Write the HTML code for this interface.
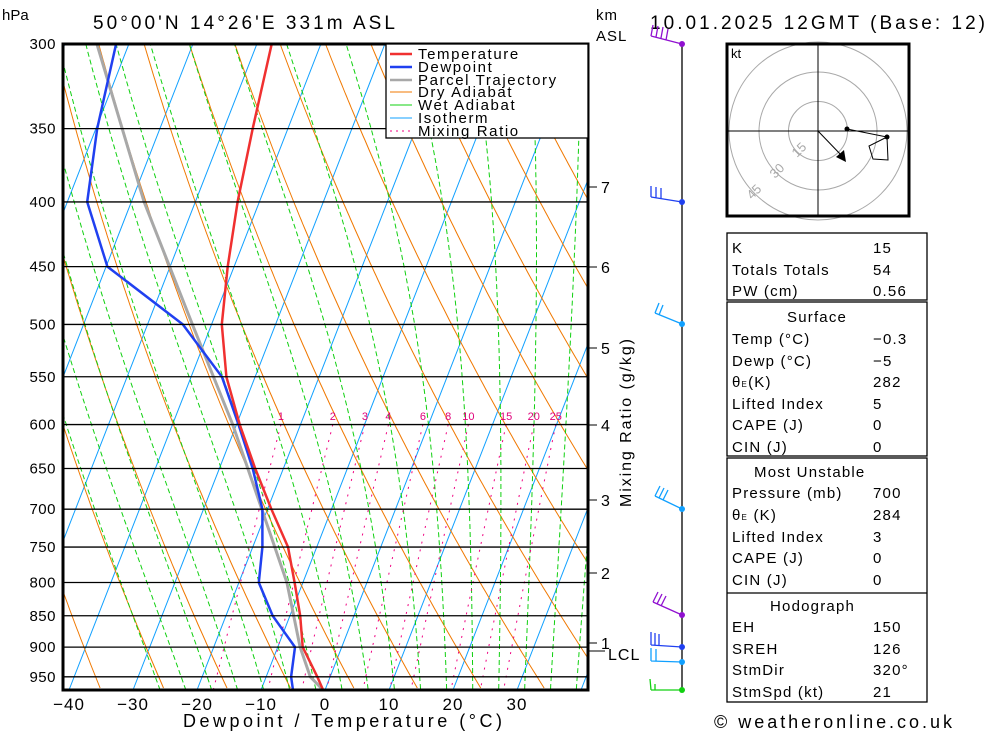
<!DOCTYPE html>
<html><head><meta charset="utf-8"><style>
body{margin:0;background:#fff;}
svg{display:block;font-family:"Liberation Sans",sans-serif;}
</style></head><body>
<svg id="c" width="1000" height="733" viewBox="0 0 1000 733">
<defs><clipPath id="pc"><rect x="63" y="44" width="525" height="646"/></clipPath></defs>
<g id="bg" clip-path="url(#pc)"></g>
<g id="series" clip-path="url(#pc)"></g>
<g id="axes"></g>
<g font-family="Liberation Sans, sans-serif">
<text x="2" y="20" font-size="15">hPa</text>
<text x="93" y="29" font-size="19" textLength="302" lengthAdjust="spacing">50°00'N  14°26'E  331m  ASL</text>
<text x="596" y="20" font-size="15" letter-spacing="1">km</text>
<text x="596" y="41" font-size="15" letter-spacing="1">ASL</text>
<text x="650" y="29" font-size="19" textLength="335" lengthAdjust="spacing">10.01.2025  12GMT  (Base: 12)</text>
<text x="183" y="727" font-size="18" textLength="319" lengthAdjust="spacing">Dewpoint / Temperature (°C)</text>
<text x="608" y="660" font-size="16" letter-spacing="1">LCL</text>
<line x1="588" y1="651" x2="605" y2="651" stroke="#000"/>
<text transform="translate(631,507) rotate(-90)" font-size="16" textLength="168" lengthAdjust="spacing">Mixing Ratio (g/kg)</text>
<text x="714" y="728" font-size="18" textLength="238" lengthAdjust="spacing">© weatheronline.co.uk</text>
</g>
<g font-family="Liberation Sans, sans-serif" font-size="15" letter-spacing="1.6">
<rect x="386" y="44" width="202" height="94" fill="#fff" stroke="#000" stroke-width="1.3"/>
<line x1="390" x2="412" y1="54" y2="54" stroke="#f03030" stroke-width="2.5"/><text x="418" y="59">Temperature</text>
<line x1="390" x2="412" y1="67" y2="67" stroke="#2040f0" stroke-width="2.5"/><text x="418" y="72">Dewpoint</text>
<line x1="390" x2="412" y1="80" y2="80" stroke="#a8a8a8" stroke-width="2.5"/><text x="418" y="85">Parcel Trajectory</text>
<line x1="390" x2="412" y1="92" y2="92" stroke="#f07800"/><text x="418" y="97">Dry Adiabat</text>
<line x1="390" x2="412" y1="105" y2="105" stroke="#10d010"/><text x="418" y="110">Wet Adiabat</text>
<line x1="390" x2="412" y1="118" y2="118" stroke="#10a0ff"/><text x="418" y="123">Isotherm</text>
<line x1="390" x2="412" y1="131" y2="131" stroke="#f00080" stroke-dasharray="2,4"/><text x="418" y="136">Mixing Ratio</text>
</g>
<g stroke-width="1.3">
<line x1="682" y1="44" x2="682" y2="690" stroke="#000" stroke-width="1.3"/>
<g stroke="#9010d0" fill="none"><path d="M682,44 L651,36 M651,36 L653,25 M656,37 L658,26 M661,38 L663,27 M666,40 L668,29"/></g><circle cx="682" cy="44" r="3" fill="#9010d0"/>
<g stroke="#2040f0" fill="none"><path d="M682,202 L651,197 M651,197 L651,186 M656,198 L656,187 M661,199 L661,188"/></g><circle cx="682" cy="202" r="3" fill="#2040f0"/>
<g stroke="#10a0ff" fill="none"><path d="M682,324 L655,313 M655,313 L659,303 M659,315 L663,305"/></g><circle cx="682" cy="324" r="3" fill="#10a0ff"/>
<g stroke="#10a0ff" fill="none"><path d="M682,509 L655,496 M655,496 L660,486 M659,498 L664,488 M663,500 L668,490"/></g><circle cx="682" cy="509" r="3" fill="#10a0ff"/>
<g stroke="#9010d0" fill="none"><path d="M682,615 L653,602 M653,602 L658,592 M657,604 L662,594 M661,606 L666,596"/></g><circle cx="682" cy="615" r="3" fill="#9010d0"/>
<g stroke="#2040f0" fill="none"><path d="M682,647 L651,645 M651,645 L651,632 M655,645 L655,633 M659,645 L659,634"/></g><circle cx="682" cy="647" r="3" fill="#2040f0"/>
<g stroke="#10a0ff" fill="none"><path d="M682,662 L651,661 M651,661 L651,648 M656,661 L656,649"/></g><circle cx="682" cy="662" r="3" fill="#10a0ff"/>
<g stroke="#10d010" fill="none"><path d="M682,690 L651,690 M651,690 L650,679 M655,690 L655,684"/></g><circle cx="682" cy="690" r="3" fill="#10d010"/>
</g>
<g>
<rect x="727" y="44" width="182" height="172" fill="#fff" stroke="#000" stroke-width="3"/>
<g fill="none" stroke="#a8a8a8"><circle cx="818" cy="131" r="29.5"/><circle cx="818" cy="131" r="59"/><circle cx="818" cy="131" r="89"/></g>
<rect x="727" y="44" width="182" height="172" fill="none" stroke="#000" stroke-width="3"/>
<line x1="727" x2="909" y1="131" y2="131" stroke="#000"/><line x1="818" x2="818" y1="44" y2="216" stroke="#000"/>
<text x="731" y="58" font-size="13" font-family="Liberation Sans, sans-serif">kt</text>
<g font-size="13" fill="#a8a8a8" font-family="Liberation Sans, sans-serif"><text transform="translate(797,158) rotate(-45)">15</text><text transform="translate(775,179) rotate(-45)">30</text><text transform="translate(752,200) rotate(-45)">45</text></g>
<polyline points="847,129 887,137 888,160 873,159 869,146 887,137" fill="none" stroke="#000"/>
<circle cx="847" cy="129" r="2.5"/><circle cx="887" cy="137" r="2.5"/>
<line x1="818" y1="131" x2="843" y2="157" stroke="#000"/><polygon points="846,162 836,157 844,150"/>
</g>
<g font-family="Liberation Sans, sans-serif" font-size="15" letter-spacing="1.2">
<rect x="727" y="233" width="200" height="67" fill="none" stroke="#000" stroke-width="1.3"/>
<rect x="727" y="302" width="200" height="154" fill="none" stroke="#000" stroke-width="1.3"/>
<rect x="727" y="458" width="200" height="244" fill="none" stroke="#000" stroke-width="1.3"/>
<line x1="727" x2="927" y1="593" y2="593" stroke="#000" stroke-width="1.3"/>
<text x="732" y="253">K</text><text x="873" y="253">15</text>
<text x="732" y="275">Totals Totals</text><text x="873" y="275">54</text>
<text x="732" y="296">PW (cm)</text><text x="873" y="296">0.56</text>
<text x="787" y="322">Surface</text>
<text x="732" y="344">Temp (°C)</text><text x="873" y="344">−0.3</text>
<text x="732" y="366">Dewp (°C)</text><text x="873" y="366">−5</text>
<text x="732" y="387">θ<tspan font-size="8">E</tspan>(K)</text><text x="873" y="387">282</text>
<text x="732" y="409">Lifted Index</text><text x="873" y="409">5</text>
<text x="732" y="430">CAPE (J)</text><text x="873" y="430">0</text>
<text x="732" y="452">CIN (J)</text><text x="873" y="452">0</text>
<text x="754" y="477">Most Unstable</text>
<text x="732" y="498">Pressure (mb)</text><text x="873" y="498">700</text>
<text x="732" y="520">θ<tspan font-size="8">E</tspan> (K)</text><text x="873" y="520">284</text>
<text x="732" y="542">Lifted Index</text><text x="873" y="542">3</text>
<text x="732" y="563">CAPE (J)</text><text x="873" y="563">0</text>
<text x="732" y="585">CIN (J)</text><text x="873" y="585">0</text>
<text x="770" y="611">Hodograph</text>
<text x="732" y="632">EH</text><text x="873" y="632">150</text>
<text x="732" y="654">SREH</text><text x="873" y="654">126</text>
<text x="732" y="675">StmDir</text><text x="873" y="675">320°</text>
<text x="732" y="697">StmSpd (kt)</text><text x="873" y="697">21</text>
</g>
</svg>
<script>
const tempP=[300,350,400,450,500,550,600,650,700,750,800,850,900,950,973];
const tempT=[-47.7,-45.5,-43.4,-41,-38.4,-34.5,-29.5,-24.4,-19.4,-14.5,-11.3,-8.4,-6.1,-2,-0.3];
const dewP=[300,350,400,450,500,550,600,650,700,750,800,850,900,950,973];
const dewT=[-72,-69.8,-66.9,-59.8,-44.5,-35.2,-29.7,-24.8,-20.8,-18.5,-16.9,-12.7,-7.3,-6.1,-5];
const parP=[300,400,500,600,700,800,900,950,973];
const parT=[-75,-58,-43,-30.6,-20.9,-12.5,-6.5,-3.1,-0.3];
const pTicks=[300,350,400,450,500,550,600,650,700,750,800,850,900,950];
const tTicks=[-40,-30,-20,-10,0,10,20,30];
const mixVals=[1,2,3,4,6,8,10,15,20,25];
const kmLabels=["7","6","5","4","3","2","1"];
const kmY=[187,267,348,425,500,573,643];
const NS="http://www.w3.org/2000/svg";
const X0=325,SC=6.4,SK=0.39,YB=690;
function yP(p){return 44+549*Math.log(p/300);}
function xT(T,y){return X0+SC*T+SK*(YB-y);}
function pOfY(y){return 300*Math.exp((y-44)/549);}
function mk(tag,at,par){const e=document.createElementNS(NS,tag);for(const k in at)e.setAttribute(k,at[k]);par.appendChild(e);return e;}
const bg=document.getElementById('bg'),se=document.getElementById('series'),ax=document.getElementById('axes');
function poly(pts,col,w,dash,par){return mk('polyline',{points:pts.map(q=>q[0].toFixed(1)+','+q[1].toFixed(1)).join(' '),fill:'none',stroke:col,'stroke-width':w,'stroke-dasharray':dash||'none'},par);}
for(let T=-120;T<=40;T+=10){const l=poly([[xT(T,YB),YB],[xT(T,44),44]],'#10a0ff',1,null,bg);

}
for(let th=220;th<=460;th+=10){const pts=[];for(let y=44;y<=YB;y+=4){const p=pOfY(y);const T=th*Math.pow(p/1000,0.286)-273.15;pts.push([xT(T,y),y]);}
const l=poly(pts,'#f07800',1,null,bg);

}
function es(T){return 6.112*Math.exp(17.67*T/(T+243.5));}
function moist(T,p){const Tk=T+273.15;const e=es(T);const r=0.622*e/(p-e);const L=2.5e6,Rd=287,cp=1005;
return (Rd*Tk+L*r)/(cp+L*L*r*0.622/(Rd*Tk*Tk))/p;}
for(let T0=-24;T0<=40;T0+=4){let T=T0,p=1000;const pts=[];while(p>=300){const y=yP(p);pts.push([xT(T,y),y]);const dp=-5;T+=moist(T,p)*dp;p+=dp;}
const l=poly(pts,'#10d010',1,'5,3',bg);

}
mixVals.forEach(w=>{const pts=[];for(let p=600;p<=980;p+=10){const e=w*p/(622+w);const a=Math.log(e/6.112);const T=243.5*a/(17.67-a);const y=yP(p);pts.push([xT(T,y),y]);}
const l=poly(pts,'#f00080',1,'2,6',bg);


const t=mk('text',{x:pts[0][0],y:420,fill:'#e0007a','font-size':11,'text-anchor':'middle'},ax);t.textContent=w;

});
pTicks.forEach(p=>{const y=yP(p);const l=mk('line',{x1:63,x2:588,y1:y,y2:y,stroke:'#000','stroke-width':1.3},ax);


const t=mk('text',{x:56,y:y+5,'font-size':15,'text-anchor':'end','letter-spacing':0.5},ax);t.textContent=p;

});
function line(P,T,col,w,name){const pts=P.map((p,i)=>{const y=yP(p);return [xT(T[i],y),y];});const l=poly(pts,col,w,null,se);

}
line(parP,parT,'#a8a8a8',3,'parcel-trajectory-line');
line(dewP,dewT,'#2040f0',2.5,'dewpoint-line');
line(tempP,tempT,'#f03030',2.5,'temperature-line');
mk('rect',{x:63,y:44,width:525,height:646,fill:'none',stroke:'#000','stroke-width':3},ax);
tTicks.forEach(T=>{const x=X0+SC*T;const t=mk('text',{x:x,y:710,'font-size':17,'text-anchor':'middle','letter-spacing':1},ax);t.textContent=T<0?'\u2212'+(-T):T;

});
kmLabels.forEach((k,i)=>{mk('line',{x1:588,x2:597,y1:kmY[i],y2:kmY[i],stroke:'#000'},ax);
const t=mk('text',{x:601,y:kmY[i]+6,'font-size':16},ax);t.textContent=k;

});
</script>
</body></html>
